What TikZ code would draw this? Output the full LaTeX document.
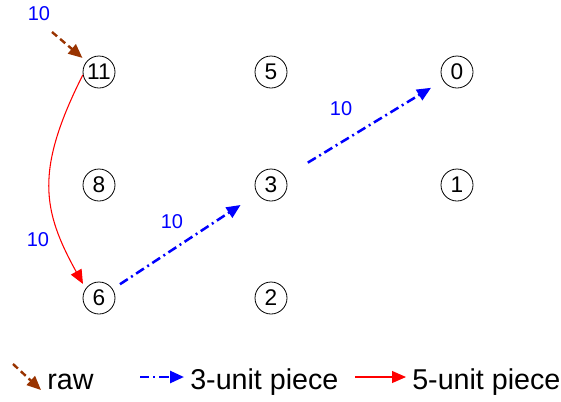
\documentclass[tikz,border=0pt]{standalone}
\usepackage{fontspec}
\setmainfont{Liberation Sans}
\usetikzlibrary{arrows.meta}
\definecolor{rawbrown}{RGB}{153,51,0}
\begin{document}
\begin{tikzpicture}[x=0.75pt,y=-0.75pt,
  num/.style={circle,draw=black,line width=0.6pt,minimum size=24pt,inner sep=0pt,font=\fontsize{17}{18}\selectfont},
  lbl/.style={text=blue,font=\fontsize{15}{16}\selectfont,inner sep=0pt},
  legtext/.style={font=\fontsize{21.5}{24}\selectfont,inner sep=0pt,anchor=base west},
  tip/.style={-{Triangle[length=10.5pt,width=9pt]}},
  rawarrow/.style={tip,draw=rawbrown,line width=1.8pt,dash pattern=on 5pt off 3pt},
  threearrow/.style={tip,draw=blue,line width=1.9pt,dash pattern=on 7pt off 3pt on 1.5pt off 3pt},
  fivearrow/.style={tip,draw=red,line width=0.8pt}]
\useasboundingbox (0,0) rectangle (561,401);
\node[num] (n11) at (99,72) {11};
\node[num] (n5) at (271,72) {5};
\node[num] (n0) at (457,72) {0};
\node[num] (n8) at (99,185) {8};
\node[num] (n3) at (271,185) {3};
\node[num] (n1) at (457,185) {1};
\node[num] (n6) at (99,298) {6};
\node[num] (n2) at (271,298) {2};
% raw input
\coordinate (rawstart) at (52,32);
\draw[rawarrow,shorten >=4pt] (rawstart) -- (n11);
\node[lbl] (l0) at (39,14) {10};
% 5-unit piece
\draw[fivearrow,shorten >=4pt] (n11.190) .. controls (35,170) and (42,210) .. (n6.145);
\node[lbl] (l1) at (38,240) {10};
% 3-unit pieces
\draw[threearrow,shorten <=6.5pt,shorten >=15pt] (n6) -- (n3);
\node[lbl] (l2) at (172,222) {10};
\draw[threearrow,shorten <=20pt,shorten >=10.5pt] (n3) -- (n0);
\node[lbl] (l3) at (341,109) {10};
% legend
\coordinate (ra) at (13,364);
\coordinate (rb) at (41,390);
\draw[rawarrow] (ra) -- (rb);
\node[legtext] (traw) at (47,389) {raw};
\coordinate (ba) at (140,377);
\coordinate (bb) at (184,377);
\draw[threearrow] (ba) -- (bb);
\node[legtext] (tthree) at (190,389) {3-unit piece};
\coordinate (fa) at (355,377);
\coordinate (fb) at (406,377);
\draw[fivearrow] (fa) -- (fb);
\node[legtext] (tfive) at (412,389) {5-unit piece};
\end{tikzpicture}
\end{document}
